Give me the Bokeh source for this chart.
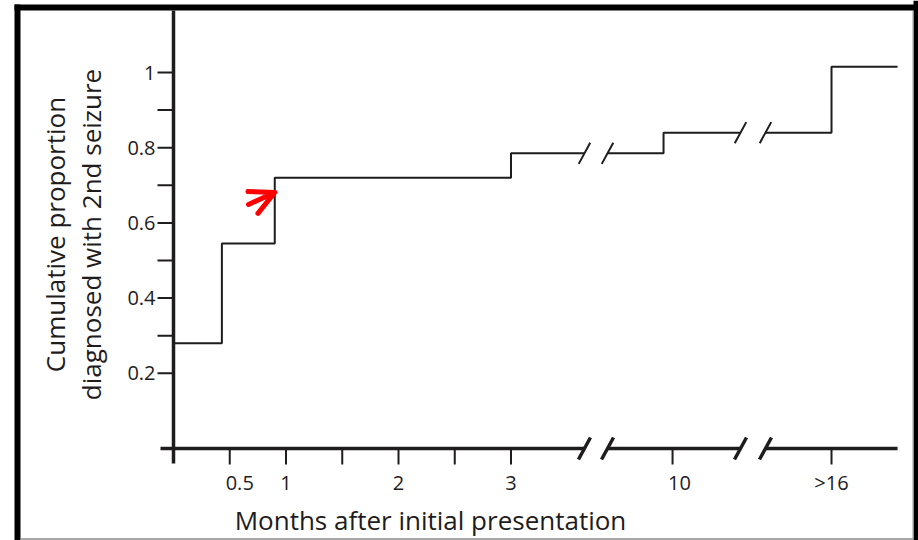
import math
from bokeh.plotting import figure
from bokeh.models import Range1d, Arrow, OpenHead, ColumnDataSource
from bokeh.core.properties import value
from bokeh.embed import file_html
from bokeh.resources import INLINE

# ---------------- data (x = position on the broken time axis; first part in months) --------------
seg1_x = [0.0, 0.43, 0.90, 3.0, 3.653]
seg1_y = [0.28, 0.545, 0.72, 0.785, 0.785]
seg2_x = [3.858, 4.356, 5.04]
seg2_y = [0.785, 0.84, 0.84]
seg3_x = [5.262, 5.849, 6.436]
seg3_y = [0.84, 1.015, 1.015]

x_tick_pos = [0.5, 1.0, 1.5, 2.0, 2.5, 3.0, 4.436, 5.849]
x_tick_labels = ["0.5", "1", "", "2", "", "3", "10", ">16"]
y_tick_pos = [0.2, 0.3, 0.4, 0.5, 0.6, 0.7, 0.8, 0.9, 1.0]
y_tick_labels = ["0.2", "", "0.4", "", "0.6", "", "0.8", "", "1"]

axis_seg_start = [-0.1156, 3.858, 5.262]
axis_seg_end = [3.653, 5.04, 6.436]
axis_break_x = [3.653, 3.858, 5.04, 5.262]
line_break_x = [3.653, 3.858, 5.04, 5.262]
line_break_y = [0.785, 0.785, 0.84, 0.84]

arrow_tail = (0.667, 0.649)
arrow_tip = (0.90, 0.681)

x_title = "Months after initial presentation"
y_title = ["Cumulative proportion", "diagnosed with 2nd seizure"]

# ---------------- layout (canvas pixels -> data units) ----------------
W, H = 918, 540
OX, OY = 173.0, 448.0   # pixel position of the origin
PXU = 112.5             # px per x unit
PYU = 376.0             # px per y unit


def ux(px):
    return (px - OX) / PXU


def vy(py):
    return (OY - py) / PYU


def dx(px):
    return px / PXU


def dy(px):
    return px / PYU


xr = Range1d(ux(0), ux(W))
yr = Range1d(vy(H), vy(0))

INK = "#1e1c1d"
FONT = value("Open Sans")

p = figure(width=W, height=H, x_range=xr, y_range=yr, x_axis_type=None, y_axis_type=None,
           toolbar_location=None, output_backend="svg",
           min_border_left=0, min_border_right=0, min_border_top=0, min_border_bottom=0)
p.xgrid.visible = False
p.ygrid.visible = False
p.outline_line_color = None
p.background_fill_color = "white"
p.border_fill_color = "white"

# picture frame
p.quad(left=[ux(14), ux(14), ux(913)], right=[ux(20), ux(918), ux(918)],
       bottom=[vy(540), vy(10), vy(540)], top=[vy(4), vy(4), vy(0)],
       fill_color="black", line_color=None)
p.segment(x0=[ux(20)], y0=[vy(538.5)], x1=[ux(913)], y1=[vy(538.5)], line_color="#8a8a8a",
          line_width=1.5)
p.segment(x0=[ux(912.5)], y0=[vy(10)], x1=[ux(912.5)], y1=[vy(538)], line_color="#9a9a9a",
          line_width=1)

# axes lines
p.segment(x0=[0], y0=[-dy(15)], x1=[0], y1=[vy(10)], line_color=INK, line_width=3.5)
p.segment(x0=axis_seg_start, y0=[0] * 3, x1=axis_seg_end, y1=[0] * 3, line_color=INK, line_width=3.5)

# ticks
p.segment(x0=x_tick_pos, y0=[0] * len(x_tick_pos), x1=x_tick_pos, y1=[-dy(16)] * len(x_tick_pos),
          line_color=INK, line_width=2)
p.segment(x0=[-dx(16)] * len(y_tick_pos), y0=y_tick_pos, x1=[0] * len(y_tick_pos), y1=y_tick_pos,
          line_color=INK, line_width=2)

# tick labels
xsrc = ColumnDataSource(dict(x=x_tick_pos, y=[-dy(34)] * len(x_tick_pos), t=x_tick_labels,
                             off=[10, 0, 0, 0, 0, 0, 7, 0]))
p.text(x="x", y="y", text="t", x_offset="off", source=xsrc, text_align="center",
       text_baseline="middle", text_font=FONT, text_font_size="20px", text_color=INK)
p.text(x=[-dx(18)] * len(y_tick_pos), y=y_tick_pos, text=y_tick_labels, text_align="right",
       text_baseline="middle", text_font=FONT, text_font_size="20px", text_color=INK)

# axis titles
p.text(x=[ux(430)], y=[vy(519)], text=[x_title], text_align="center",
       text_baseline="alphabetic", text_font=FONT, text_font_size="26px", text_color=INK)
p.text(x=[ux(54), ux(90)], y=[vy(234)] * 2, text=y_title, angle=math.pi / 2,
       text_align="center", text_baseline="alphabetic", text_font=FONT, text_font_size="26px",
       text_color=INK)

# step line (three pieces of the broken axis)
for xs, ys in ((seg1_x, seg1_y), (seg2_x, seg2_y), (seg3_x, seg3_y)):
    p.step(xs, ys, mode="after", line_color=INK, line_width=2)

# break marks
ang = math.atan2(22, 12)
p.scatter(axis_break_x, [0] * len(axis_break_x), marker="dash", size=25, angle=ang,
          line_color=INK, line_width=3.5)
p.scatter(line_break_x, line_break_y, marker="dash", size=24, angle=ang,
          line_color=INK, line_width=2)

# red arrow
p.add_layout(Arrow(x_start=arrow_tail[0], y_start=arrow_tail[1], x_end=arrow_tip[0], y_end=arrow_tip[1],
                   line_color="red", line_width=5, line_cap="round",
                   end=OpenHead(size=24, line_color="red", line_width=5, line_cap="round",
                                line_join="round")))

open("out.html", "w").write(file_html(p, INLINE))
